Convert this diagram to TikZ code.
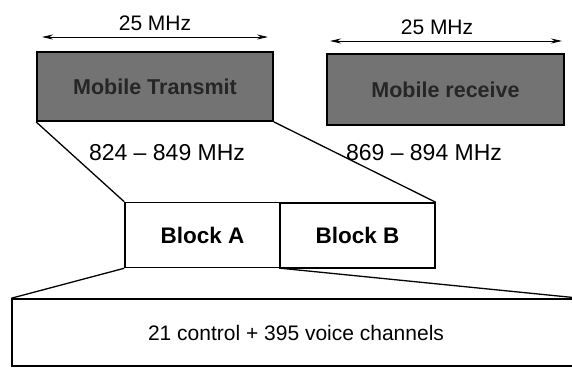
\documentclass[tikz,border=0pt]{standalone}
\usepackage{fontspec}
\setmainfont{Liberation Sans}
\usetikzlibrary{arrows.meta, positioning}

\begin{document}
\begin{tikzpicture}[x=1pt, y=-1pt, >={Stealth[length=11pt,width=5pt]},
  font=\fontsize{21}{25}\selectfont,
  band/.style={rectangle, draw, line width=1.8pt, fill=black!55, text=black!85,
    font=\fontsize{21.5}{25}\selectfont\bfseries, inner sep=0pt},
  block/.style={rectangle, draw, line width=1.5pt, fill=white, inner sep=0pt},
  span/.style={<->, line width=0.8pt}]
  \useasboundingbox (0,0) rectangle (572,368);
  \clip (0,0) rectangle (572,368);
  % mobile bands
  \node[band, minimum width=236pt, minimum height=69pt] (tx) at (155,86.5) {Mobile Transmit};
  \node[band, minimum width=237pt, minimum height=71pt] (rx) at (445.5,89.5) {Mobile receive};
  % bandwidth arrows
  \coordinate (txL) at (42,37);
  \coordinate (txR) at (268,37);
  \coordinate (rxL) at (330,41);
  \coordinate (rxR) at (562,41);
  \draw[span] (txL) -- node[above=3pt] (txW) {25 MHz} (txR);
  \draw[span] (rxL) -- node[above=3pt, xshift=-9pt] (rxW) {25 MHz} (rxR);
  % frequency ranges
  \node[font=\fontsize{23}{27}\selectfont] (txF) at (167,153) {824 -- 849 MHz};
  \node[font=\fontsize{23}{27}\selectfont] (rxF) at (424,153) {869 -- 894 MHz};
  % blocks
  \node[block, minimum width=155pt, minimum height=65pt, font=\fontsize{22.5}{26}\selectfont\bfseries] (blkA) at (202.5,235) {Block A};
  \node[block, minimum width=155pt, minimum height=65pt, font=\fontsize{22.5}{26}\selectfont\bfseries] (blkB) at (357.5,235.5) {Block B};
  % channels
  \node[block, minimum width=568pt, minimum height=67pt] (chan) at (296,332.5) {21 control + 395 voice channels};
  % zoom lines
  \draw[line width=1.3pt] (tx.south west) -- (blkA.north west);
  \draw[line width=1.3pt] (tx.south east) -- (blkB.north east);
  \draw[line width=1.3pt] (blkA.south west) -- (chan.north west);
  \draw[line width=1.3pt] (blkA.south east) -- (chan.north east);
\end{tikzpicture}
\end{document}
